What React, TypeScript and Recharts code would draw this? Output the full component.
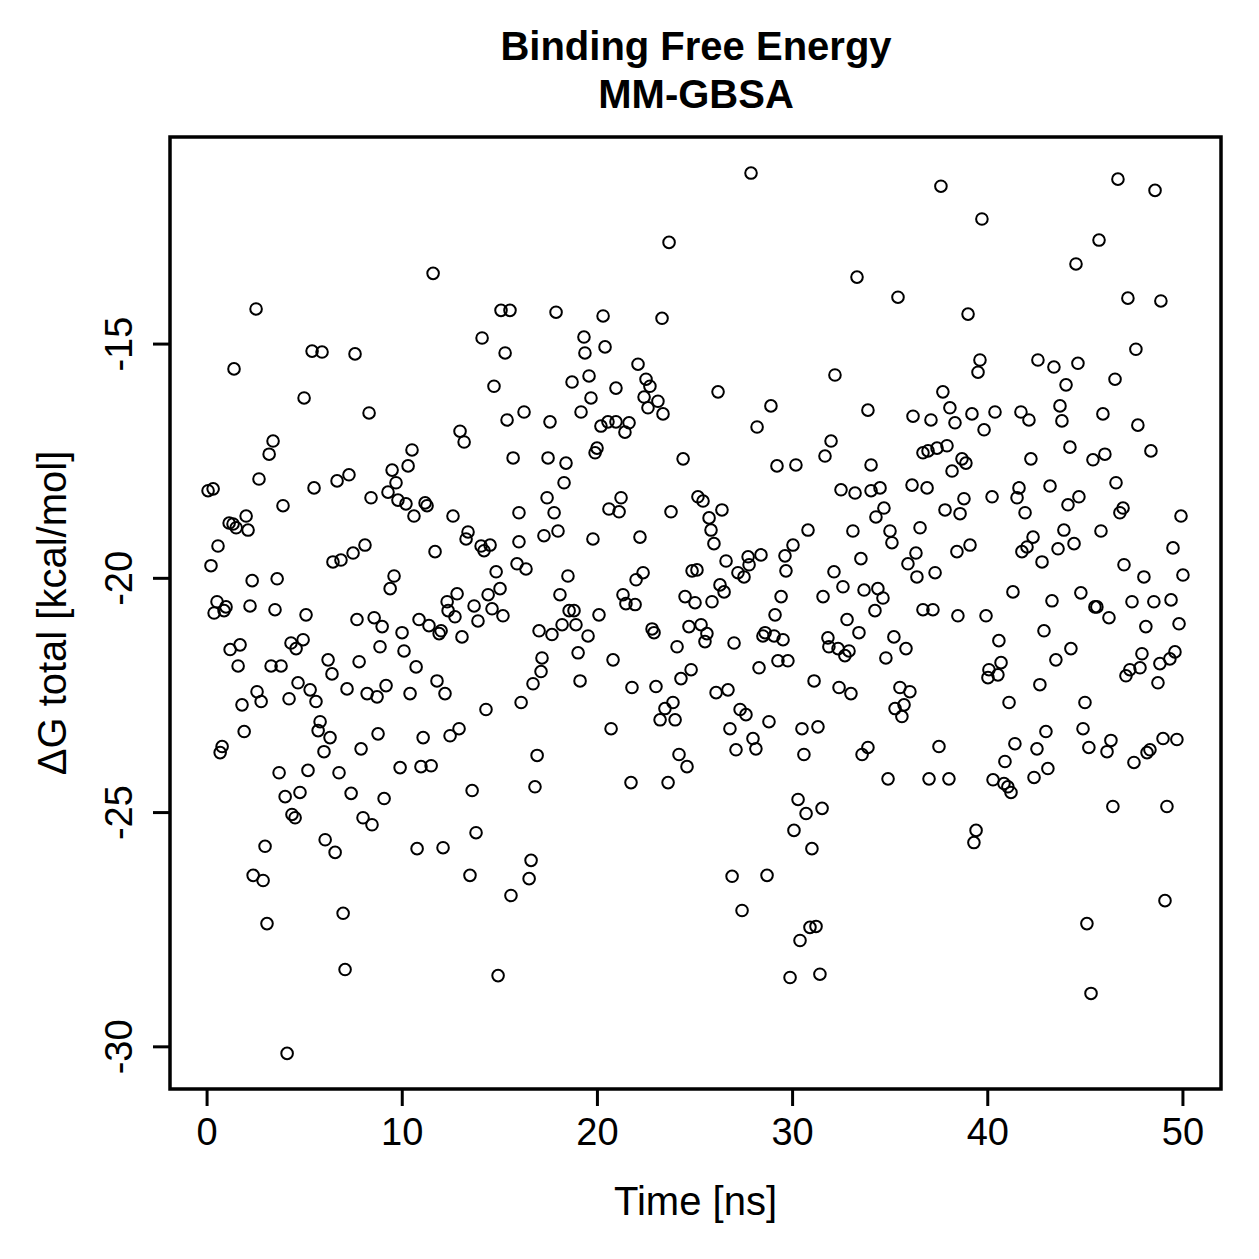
import React from "react";
import { ScatterChart, Scatter, XAxis, YAxis, ReferenceArea, Label } from "recharts";

const chartTitle = ["Binding Free Energy", "MM-GBSA"];
const xAxisTitle = "Time [ns]";
const yAxisTitle = "\u0394G total [kcal/mol]";
const xTicks = [0, 10, 20, 30, 40, 50];
const yTicks = [-30, -25, -20, -15];
const xDomain = [-1.9, 51.95];
const yDomain = [-30.9, -10.58];

const timeNs = [
  11.58, 2.51, 15.06, 15.52, 14.09, 15.27, 5.38, 5.89, 7.58, 1.38, 14.7, 4.97, 8.3, 16.24, 15.37, 12.96, 13.17, 3.38, 3.18, 10.5,
  15.68, 27.87, 23.67, 33.3, 17.88, 20.29, 23.31, 19.31, 20.39, 19.36, 22.08, 32.17, 19.57, 18.7, 22.49, 22.69, 20.95, 26.18, 19.67, 22.39,
  23.1, 28.89, 22.59, 23.36, 19.16, 33.86, 17.57, 20.18, 20.54, 20.95, 21.62, 21.41, 28.18, 31.97, 19.98, 19.88, 17.47, 24.39, 31.66, 37.6,
  46.67, 48.57, 39.7, 45.7, 44.52, 35.4, 47.18, 48.87, 38.99, 47.59, 39.6, 39.5, 42.57, 43.39, 44.62, 46.52, 44.01, 37.7, 36.17, 37.09,
  38.06, 38.32, 39.19, 40.37, 39.81, 41.7, 42.11, 43.7, 43.8, 45.9, 47.69, 44.21, 48.36, 46.0, 36.68, 36.94, 37.4, 37.91, 38.68, 38.88,
  42.21, 45.39, 2.66, 0.05, 0.31, 5.48, 6.66, 7.27, 9.48, 10.3, 9.68, 8.4, 9.27, 9.78, 10.19, 11.17, 11.27, 10.6, 12.6, 15.98,
  3.89, 1.13, 1.33, 1.49, 2.0, 2.1, 0.56, 0.2, 8.09, 7.48, 6.86, 6.45, 11.68, 13.37, 13.27, 14.04, 14.5, 14.19, 15.98, 15.88,
  16.34, 14.81, 15.01, 14.4, 14.6, 15.16, 13.88, 13.68, 12.81, 12.3, 12.35, 12.7, 13.06, 9.58, 9.38, 2.31, 3.59, 0.51, 0.97, 0.36,
  0.87, 2.2, 3.48, 5.07, 7.68, 8.56, 8.97, 9.99, 10.86, 11.37, 11.89, 11.99, 1.18, 1.69, 1.59, 4.3, 4.92, 4.56, 3.28, 3.79,
  6.2, 6.4, 7.79, 8.86, 10.09, 10.71, 4.66, 5.28, 5.58, 2.56, 2.77, 1.79, 4.2, 7.17, 8.2, 8.71, 9.17, 10.4, 11.78, 12.19,
  14.29, 16.09, 1.9, 0.77, 0.67, 5.79, 5.69, 6.3, 5.99, 7.89, 8.76, 11.07, 12.45, 12.91, 3.69, 5.17, 6.76, 9.89, 10.96, 11.48,
  4.0, 4.76, 7.38, 9.07, 13.58, 4.35, 4.51, 7.99, 8.45, 13.78, 2.97, 6.05, 6.56, 10.76, 12.09, 2.36, 2.87, 13.47, 15.57, 6.97,
  3.07, 7.07, 14.91, 4.1, 18.39, 29.2, 30.17, 34.02, 18.29, 17.42, 21.21, 20.59, 21.11, 17.78, 23.77, 25.15, 25.41, 26.38, 25.72, 25.82,
  25.97, 32.48, 33.2, 30.79, 33.09, 17.26, 17.98, 19.77, 22.18, 30.02, 29.61, 29.66, 33.5, 28.38, 27.72, 27.77, 27.2, 27.51, 26.59, 18.49,
  22.34, 21.98, 24.85, 25.1, 32.12, 18.08, 21.31, 21.46, 21.93, 24.49, 25.0, 25.87, 26.28, 26.49, 29.41, 29.1, 31.56, 32.58, 33.66, 18.55,
  18.8, 20.08, 17.01, 17.67, 18.19, 18.9, 19.52, 22.8, 22.9, 24.69, 25.31, 25.61, 25.51, 24.08, 27.0, 28.48, 28.59, 29.05, 29.51, 32.79,
  33.4, 31.81, 31.86, 32.33, 32.68, 32.89, 17.16, 17.11, 16.7, 19.01, 19.11, 20.8, 24.8, 24.28, 29.25, 29.76, 28.28, 31.1, 32.38, 32.99,
  21.77, 23.0, 26.08, 26.69, 23.87, 23.46, 23.21, 23.98, 27.31, 27.61, 28.79, 26.79, 27.97, 28.12, 27.1, 30.48, 31.3, 30.58, 33.86, 33.56,
  20.7, 16.91, 24.18, 24.59, 16.8, 21.72, 23.62, 30.28, 30.69, 31.51, 30.07, 30.99, 16.6, 16.5, 26.9, 28.69, 27.41, 30.89, 31.2, 30.38,
  29.87, 31.4, 38.17, 36.12, 36.89, 34.48, 34.02, 34.68, 34.27, 37.81, 38.78, 38.58, 40.22, 41.6, 41.5, 41.91, 43.19, 44.67, 44.11, 46.57,
  46.93, 46.77, 49.9, 34.99, 35.09, 36.53, 36.32, 35.91, 36.37, 37.3, 38.42, 39.09, 42.32, 42.01, 41.75, 42.78, 43.9, 43.6, 44.42, 45.8,
  49.49, 46.98, 48.0, 50.0, 34.37, 34.63, 34.22, 36.68, 37.19, 38.47, 39.91, 41.29, 43.29, 44.77, 45.49, 45.59, 46.21, 47.39, 48.51, 49.39,
  48.1, 49.8, 42.88, 35.19, 35.81, 34.78, 40.57, 44.26, 43.49, 40.06, 40.01, 40.68, 40.52, 42.67, 47.9, 47.8, 47.28, 47.08, 49.59, 49.33,
  48.82, 48.72, 35.5, 36.01, 35.71, 35.25, 35.6, 41.09, 44.98, 37.5, 41.39, 42.52, 40.88, 42.98, 43.08, 44.88, 45.18, 46.31, 46.11, 48.98,
  49.69, 48.31, 48.16, 47.49, 34.89, 36.99, 38.01, 40.27, 40.83, 41.03, 41.19, 42.37, 46.41, 49.18, 39.4, 39.29, 49.08, 45.08, 45.29,
];

const deltaGTotal = [
  -13.49, -14.25, -14.28, -14.28, -14.87, -15.19, -15.15, -15.17, -15.21, -15.53, -15.9, -16.15, -16.47, -16.45, -16.62, -16.86, -17.09, -17.07, -17.35, -17.26,
  -17.43, -11.35, -12.83, -13.57, -14.32, -14.4, -14.45, -14.85, -15.06, -15.19, -15.43, -15.66, -15.68, -15.81, -15.75, -15.9, -15.94, -16.02, -16.15, -16.13,
  -16.22, -16.32, -16.36, -16.49, -16.45, -16.41, -16.66, -16.75, -16.66, -16.66, -16.68, -16.88, -16.77, -17.07, -17.22, -17.32, -17.43, -17.45, -17.39, -11.63,
  -11.48, -11.72, -12.33, -12.78, -13.29, -14.0, -14.02, -14.08, -14.36, -15.11, -15.34, -15.6, -15.34, -15.49, -15.41, -15.75, -15.87, -16.02, -16.54, -16.62,
  -16.36, -16.68, -16.49, -16.45, -16.83, -16.45, -16.62, -16.32, -16.64, -16.49, -16.73, -17.2, -17.28, -17.35, -17.32, -17.28, -17.22, -17.17, -17.45, -17.54,
  -17.45, -17.47, -17.88, -18.13, -18.09, -18.07, -17.92, -17.79, -17.69, -17.6, -17.96, -18.28, -18.16, -18.33, -18.41, -18.39, -18.45, -18.67, -18.67, -18.6,
  -18.45, -18.82, -18.84, -18.92, -18.67, -18.97, -19.31, -19.73, -19.29, -19.46, -19.61, -19.65, -19.43, -19.01, -19.16, -19.31, -19.29, -19.41, -19.22, -19.69,
  -19.8, -19.86, -20.22, -20.35, -20.65, -20.8, -20.91, -20.59, -20.33, -20.5, -20.69, -20.82, -21.25, -19.95, -20.22, -20.05, -20.01, -20.5, -20.61, -20.74,
  -20.69, -20.59, -20.67, -20.78, -20.88, -20.84, -21.03, -21.16, -20.88, -21.01, -21.18, -21.12, -21.52, -21.42, -21.87, -21.38, -21.31, -21.5, -21.87, -21.87,
  -21.74, -22.04, -21.78, -21.46, -21.55, -21.89, -22.23, -22.38, -22.63, -22.42, -22.63, -22.7, -22.57, -22.36, -22.46, -22.53, -22.29, -22.46, -22.19, -22.46,
  -22.8, -22.65, -23.27, -23.59, -23.72, -23.06, -23.25, -23.4, -23.7, -23.64, -23.32, -23.4, -23.36, -23.21, -24.15, -24.1, -24.15, -24.04, -24.02, -24.0,
  -24.66, -24.57, -24.59, -24.7, -24.53, -25.04, -25.11, -25.11, -25.26, -25.43, -25.72, -25.58, -25.85, -25.77, -25.75, -26.34, -26.45, -26.34, -26.77, -27.15,
  -27.37, -28.35, -28.48, -30.14, -17.54, -17.6, -17.58, -17.58, -17.96, -18.28, -18.28, -18.52, -18.58, -18.6, -18.58, -18.26, -18.35, -18.54, -18.71, -18.97,
  -19.26, -18.11, -18.18, -18.97, -18.99, -19.09, -18.99, -19.16, -19.12, -19.29, -19.52, -19.84, -19.58, -19.5, -19.54, -19.71, -19.88, -19.97, -19.63, -19.95,
  -19.88, -20.03, -19.84, -19.82, -19.86, -20.35, -20.35, -20.54, -20.56, -20.39, -20.52, -20.5, -20.14, -20.29, -20.39, -20.78, -20.39, -20.18, -20.25, -20.69,
  -20.69, -20.78, -21.12, -21.2, -20.99, -20.99, -21.23, -21.08, -21.16, -21.03, -20.99, -21.18, -21.35, -21.46, -21.38, -21.23, -21.16, -21.23, -21.31, -20.88,
  -21.16, -21.27, -21.46, -21.5, -21.65, -21.55, -21.7, -21.99, -22.25, -21.59, -22.19, -21.74, -21.95, -22.14, -21.76, -21.76, -21.91, -22.19, -22.33, -22.46,
  -22.33, -22.31, -22.44, -22.38, -22.65, -22.78, -23.02, -23.02, -22.8, -22.91, -23.06, -23.21, -23.42, -23.64, -23.66, -23.21, -23.17, -23.76, -23.61, -23.76,
  -23.21, -23.78, -23.76, -24.02, -24.45, -24.36, -24.36, -24.72, -25.02, -24.91, -25.38, -25.77, -26.02, -26.41, -26.36, -26.34, -27.09, -27.45, -27.43, -27.73,
  -28.52, -28.45, -17.71, -18.01, -18.07, -18.07, -18.13, -18.5, -18.69, -18.54, -18.3, -18.62, -18.26, -18.07, -18.28, -18.6, -18.03, -18.26, -18.43, -17.96,
  -18.5, -18.6, -18.67, -18.99, -19.24, -18.92, -19.46, -19.69, -19.97, -19.88, -19.43, -19.29, -19.12, -19.33, -19.43, -19.65, -18.97, -19.37, -19.26, -18.99,
  -19.35, -19.71, -19.97, -19.93, -20.22, -20.42, -20.69, -20.67, -20.67, -20.8, -20.8, -20.29, -20.48, -20.31, -20.61, -20.61, -20.84, -20.5, -20.5, -20.46,
  -21.03, -20.97, -21.12, -21.25, -21.5, -21.7, -21.33, -21.5, -21.74, -21.95, -22.12, -21.8, -22.06, -22.27, -21.61, -21.91, -21.95, -22.08, -21.57, -21.72,
  -21.82, -22.23, -22.33, -22.42, -22.7, -22.78, -22.95, -22.65, -22.65, -23.59, -23.53, -23.64, -23.91, -23.27, -24.06, -23.21, -23.61, -23.46, -23.7, -23.42,
  -23.44, -23.66, -23.72, -23.93, -24.28, -24.28, -24.28, -24.3, -24.38, -24.45, -24.57, -24.25, -24.87, -24.87, -25.38, -25.64, -26.88, -27.37, -28.86,
];

const points = timeNs.map((t, i) => ({ t, g: deltaGTotal[i] }));

const FONT = "'Liberation Sans', Arial, Helvetica, sans-serif";

const OpenCircle = (props: any) => {
  const { cx, cy } = props;
  if (cx == null || cy == null) return null;
  return <circle cx={cx} cy={cy} r={5.8} fill="none" stroke="#000" strokeWidth={2} />;
};

const YTick = (props: any) => {
  const { x, y, payload } = props;
  return (
    <text
      x={x}
      y={y}
      transform={`rotate(-90, ${x}, ${y})`}
      textAnchor="middle"
      fontSize={38}
      fontFamily={FONT}
      fill="#000"
    >
      {payload.value}
    </text>
  );
};

const XLabel = (props: any) => {
  const vb = props.viewBox || {};
  const cx = vb.x + vb.width / 2;
  return (
    <text x={cx} y={1215} textAnchor="middle" fontSize={40} fontFamily={FONT} fill="#000">
      {xAxisTitle}
    </text>
  );
};

const YLabel = (props: any) => {
  const vb = props.viewBox || {};
  const cy = vb.y + vb.height / 2;
  const x = 66;
  return (
    <text
      x={x}
      y={cy}
      transform={`rotate(-90, ${x}, ${cy})`}
      textAnchor="middle"
      fontSize={40}
      fontFamily={FONT}
      fill="#000"
    >
      {yAxisTitle}
    </text>
  );
};

export default function App() {
  return (
    <div style={{ position: "absolute", left: 0, top: 0, width: 1259, height: 1259, background: "#fff" }}>
      <svg style={{ position: "absolute", left: 0, top: 0 }} width={1259} height={130}>
        <text x={696} y={60} textAnchor="middle" fontSize={40} fontWeight="bold" fontFamily={FONT} fill="#000">
          {chartTitle[0]}
        </text>
        <text x={696} y={108} textAnchor="middle" fontSize={40} fontWeight="bold" fontFamily={FONT} fill="#000">
          {chartTitle[1]}
        </text>
      </svg>
      <div style={{ position: "absolute", left: 0, top: 0 }}>
        <ScatterChart width={1259} height={1259} margin={{ top: 137, right: 38, bottom: 169, left: 169 }}>
          <XAxis
            type="number"
            dataKey="t"
            domain={xDomain}
            ticks={xTicks}
            interval={0}
            allowDataOverflow
            height={1}
            axisLine={false}
            tickSize={17}
            tickMargin={12}
            tickLine={{ stroke: "#000", strokeWidth: 3 }}
            tick={{ fill: "#000", fontSize: 38, fontFamily: FONT }}
          >
            <Label content={<XLabel />} />
          </XAxis>
          <YAxis
            type="number"
            dataKey="g"
            domain={yDomain}
            ticks={yTicks}
            interval={0}
            allowDataOverflow
            width={1}
            axisLine={false}
            tickSize={17}
            tickMargin={21}
            tickLine={{ stroke: "#000", strokeWidth: 3 }}
            tick={<YTick />}
          >
            <Label content={<YLabel />} />
          </YAxis>
          <ReferenceArea
            x1={xDomain[0]}
            x2={xDomain[1]}
            y1={yDomain[0]}
            y2={yDomain[1]}
            fill="none"
            stroke="#000"
            strokeWidth={3.5}
            ifOverflow="visible"
          />
          <Scatter data={points} shape={<OpenCircle />} isAnimationActive={false} />
        </ScatterChart>
      </div>
    </div>
  );
}
